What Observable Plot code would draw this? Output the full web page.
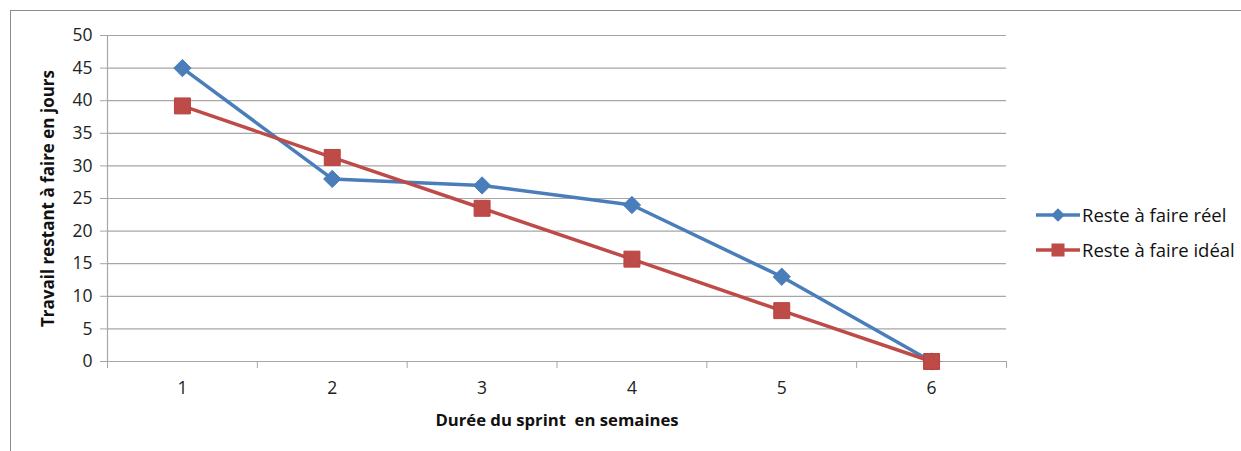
<!DOCTYPE html>
<html>
<head>
<meta charset="utf-8">
<script src="https://cdn.jsdelivr.net/npm/d3@7"></script>
<script src="https://cdn.jsdelivr.net/npm/@observablehq/plot@0.6"></script>
<style>
  html, body { margin: 0; padding: 0; background: #fff; }
  #wrap { position: relative; width: 1241px; height: 451px; overflow: hidden; font-family: "Open Sans", sans-serif; }
  #frame { position: absolute; left: 10px; top: 10px; width: 1300px; height: 600px; border: 1.5px solid #8c8c8c; pointer-events: none; }
  #legend { position: absolute; left: 1036px; top: 197px; font-size: 18.5px; color: #111; }
  #legend .item { display: flex; align-items: center; height: 35px; }
  #legend svg { margin-right: 2px; }
</style>
</head>
<body>
<div id="wrap"><div id="chart"></div><div id="legend"></div><div id="frame"></div></div>
<script>
const semaines = [1, 2, 3, 4, 5, 6];
const reel = [45, 28, 27, 24, 13, 0];
const ideal = [39.2, 31.3, 23.5, 15.7, 7.8, 0];
const yTicks = [0, 5, 10, 15, 20, 25, 30, 35, 40, 45, 50];
const xBounds = [0.5, 1.5, 2.5, 3.5, 4.5, 5.5, 6.5];
const series = ["Reste à faire réel", "Reste à faire idéal"];
const colors = ["#4a7ebb", "#be4b48"];
const symbols = ["diamond2", "square"];

const dataReel = semaines.map((s, i) => ({semaine: s, valeur: reel[i], serie: series[0]}));
const dataIdeal = semaines.map((s, i) => ({semaine: s, valeur: ideal[i], serie: series[1]}));

const grey = "#a6a6a6";
const chart = Plot.plot({
  width: 1241,
  height: 451,
  marginLeft: 107,
  marginRight: 235,
  marginTop: 35,
  marginBottom: 90,
  style: {fontFamily: "Open Sans, sans-serif", fontSize: "17px", color: "#222"},
  x: {type: "linear", domain: [0.5, 6.5]},
  y: {domain: [0, 50]},
  marks: [
    Plot.gridY(yTicks, {stroke: grey, strokeOpacity: 1, strokeWidth: 1.2}),
    Plot.ruleX([0.5], {stroke: grey, strokeWidth: 1.2}),
    Plot.axisY({ticks: yTicks, tickSize: 7, tickPadding: 8, label: null, stroke: grey, fontSize: 17.5, fill: "#222"}),
    Plot.axisY({ticks: [], label: "Travail restant à faire en jours", labelAnchor: "center", labelArrow: "none", labelOffset: 66, fontWeight: "bold", fontSize: 17, fill: "#111"}),
    Plot.axisX({ticks: xBounds, tickSize: 7, tickFormat: () => "", label: null, stroke: grey}),
    Plot.axisX({ticks: semaines, tickSize: 0, tickPadding: 20, tickFormat: d => String(d), label: null, fontSize: 17.5, fill: "#222"}),
    Plot.axisX({ticks: [], label: "Durée du sprint\u00a0 en semaines", labelAnchor: "center", labelArrow: "none", labelOffset: 64, fontWeight: "bold", fontSize: 16.7, fill: "#111"}),
    Plot.line(dataReel, {x: "semaine", y: "valeur", stroke: colors[0], strokeWidth: 3.5}),
    Plot.line(dataIdeal, {x: "semaine", y: "valeur", stroke: colors[1], strokeWidth: 3.5}),
    Plot.dot(dataReel, {x: "semaine", y: "valeur", symbol: symbols[0], r: 7.8, fill: colors[0], stroke: colors[0], strokeWidth: 1}),
    Plot.dot(dataIdeal, {x: "semaine", y: "valeur", symbol: symbols[1], r: 9, fill: colors[1], stroke: "#b54440", strokeWidth: 1})
  ]
});
document.getElementById("chart").appendChild(chart);

const legend = d3.select("#legend");
series.forEach((name, i) => {
  const item = legend.append("div").attr("class", "item");
  const svg = item.append("svg").attr("width", 44).attr("height", 20);
  svg.append("line").attr("x1", 0).attr("x2", 44).attr("y1", 10).attr("y2", 10).attr("stroke", colors[i]).attr("stroke-width", 3.5);
  const sym = i === 0 ? d3.symbolDiamond2 : d3.symbolSquare;
  svg.append("path").attr("transform", "translate(22,10)").attr("d", d3.symbol(sym, i === 0 ? 120 : 170)()).attr("fill", colors[i]);
  item.append("span").text(name);
});
</script>
</body>
</html>
